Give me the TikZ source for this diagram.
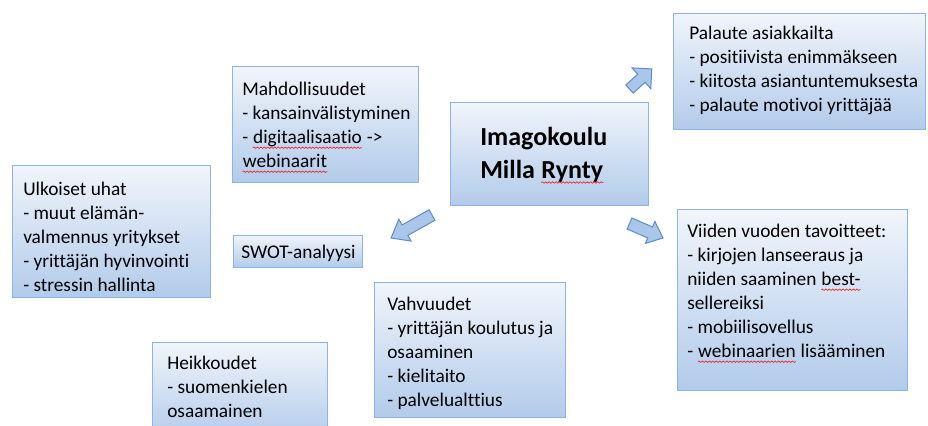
\documentclass[tikz,border=0pt]{standalone}
\usepackage{fontspec}
\setmainfont{Carlito}[Ligatures={NoCommon}]
\usetikzlibrary{decorations.pathmorphing}

\definecolor{boxline}{RGB}{141,180,226}
\definecolor{boxtop}{RGB}{241,245,251}
\definecolor{boxbot}{RGB}{178,203,234}
\definecolor{arrfill}{RGB}{170,198,234}
\definecolor{arrline}{RGB}{95,140,196}
\definecolor{spellred}{RGB}{228,40,40}

% wavy red line under a word
\newcommand\spell[1]{\tikz[baseline=(w.base)]{\node[inner sep=0pt, text depth=2.8pt] (w) {#1};
  \draw[spellred, line width=0.5pt, decorate, decoration={snake, amplitude=0.55pt, segment length=2.6pt}] (w.south west) -- (w.south east);}}

\tikzset{
  box/.style={draw=boxline, line width=0.75pt, top color=boxtop, bottom color=boxbot},
  txt/.style={anchor=north west, inner sep=0pt, align=left, font=\fontsize{14.5pt}{18pt}\selectfont},
  title/.style={anchor=north west, inner sep=0pt, align=left, font=\fontsize{19.5pt}{24.75pt}\selectfont\bfseries},
  blockarrow/.style={draw=arrline, fill=arrfill, line width=0.75pt, line join=miter}
}

\begin{document}
\begin{tikzpicture}[x=0.75pt,y=0.75pt,yscale=-1,xscale=1]
\clip (0,0) rectangle (928,425);

%Shape: Rectangle
\path[box] (673,13) rectangle (925,129);
\path[box] (232,66) rectangle (418,182);
\path[box] (450,102) rectangle (648,205);
\path[box] (12,165) rectangle (210,297);
\path[box] (233,235) rectangle (362,267);
\path[box] (374,282) rectangle (565,417);
\path[box] (152,342) rectangle (327,440);
\path[box] (677,209) rectangle (907,390);

%Shape: Right Arrow
\foreach \x/\y/\a/\l/\hl/\s/\h in {629.5/89/-42/30/14/5.5/14, 432/215/150.7/47/16/6/12.5, 629.5/223.5/23.4/36.5/14/6/12}
  \draw[blockarrow, shift={(\x,\y)}, rotate=\a] (0,-\s) -- (\l-\hl,-\s) -- (\l-\hl,-\h) -- (\l,0) -- (\l-\hl,\h) -- (\l-\hl,\s) -- (0,\s) -- cycle;

% Text Node
\node[title] (imago) at (480,127) {Imagokoulu\\Milla \spell{Rynty}};
% Text Node
\node[txt] (palaute) at (689,26) {Palaute asiakkailta\\- positiivista enimmäkseen\\- kiitosta asiantuntemuksesta\\- palaute motivoi yrittäjää};
% Text Node
\node[txt] (mahd) at (242,82) {Mahdollisuudet\\- kansainvälistyminen\\- \spell{digitaalisaatio} ->\\\spell{webinaarit}};
% Text Node
\node[txt] (uhat) at (23,182) {Ulkoiset uhat\\- muut elämän-\\valmennus yritykset\\- yrittäjän hyvinvointi\\- stressin hallinta};
% Text Node
\node[txt] (swot) at (241,245) {SWOT-analyysi};
% Text Node
\node[txt] (vahv) at (387,297) {Vahvuudet\\- yrittäjän koulutus ja\\osaaminen\\- kielitaito\\- palvelualttius};
% Text Node
\node[txt] (heik) at (167,356) {Heikkoudet\\- suomenkielen\\osaamainen};
% Text Node
\node[txt] (tavoit) at (687,224) {Viiden vuoden tavoitteet:\\- kirjojen lanseeraus ja\\niiden saaminen \spell{best-}\\sellereiksi\\- mobiilisovellus\\- \spell{webinaarien} lisääminen};

\end{tikzpicture}
\end{document}
